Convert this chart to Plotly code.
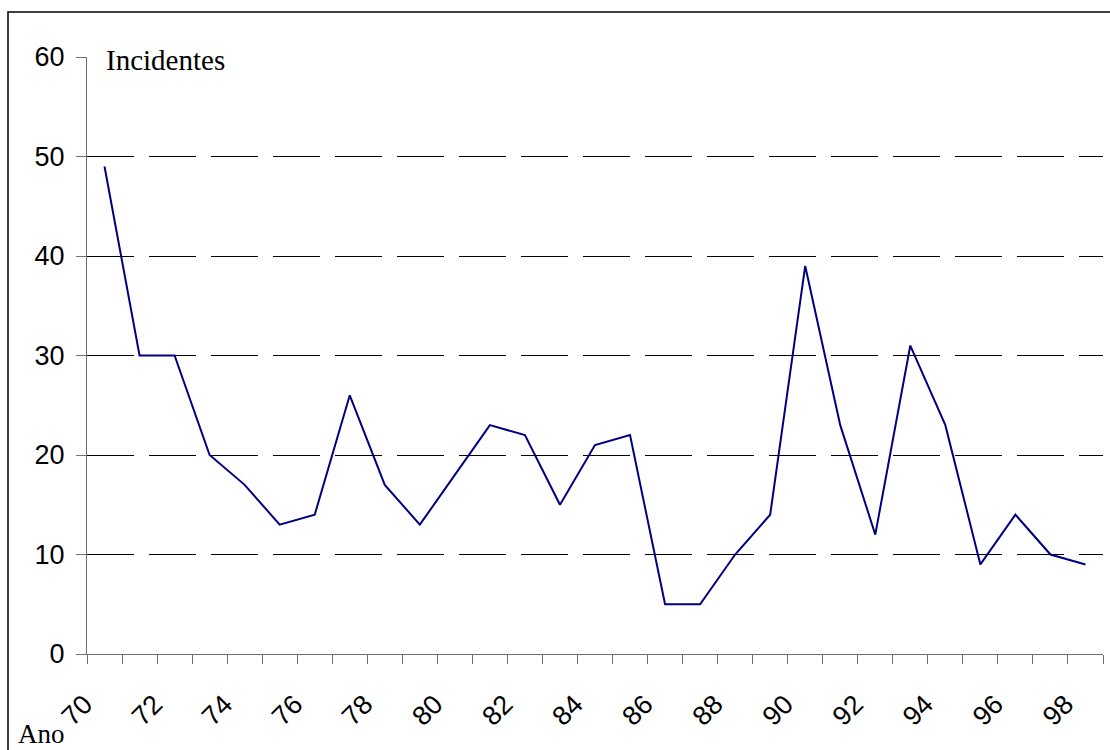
import plotly.graph_objects as go

# Number of incidents per year (1970-1998)
years = ["70", "71", "72", "73", "74", "75", "76", "77", "78", "79",
         "80", "81", "82", "83", "84", "85", "86", "87", "88", "89",
         "90", "91", "92", "93", "94", "95", "96", "97", "98"]
incidents = [49, 30, 30, 20, 17, 13, 14, 26, 17, 13,
             18, 23, 22, 15, 21, 22, 5, 5, 10, 14,
             39, 23, 12, 31, 23, 9, 14, 10, 9]
y_ticks = [0, 10, 20, 30, 40, 50, 60]
grid_values = [10, 20, 30, 40, 50]

idx = list(range(len(years)))
W, H = 1110, 750
L, R, T, B = 87, 7, 57, 96
pw, ph = W - L - R, H - T - B

fig = go.Figure()
fig.add_trace(go.Scatter(
    x=idx, y=incidents, mode="lines",
    line=dict(color="#000080", width=2),
    showlegend=False, hoverinfo="skip",
))

xr = [-0.5, len(years) - 0.5]
axis_col = "#707070"
num_font = dict(family="Arial, Liberation Sans", size=27, color="black")
serif_font = dict(family="Liberation Serif, Times New Roman", size=28, color="black")

fig.update_layout(
    width=W, height=H,
    margin=dict(l=L, r=R, t=T, b=B),
    paper_bgcolor="white", plot_bgcolor="white",
    # tick marks on category boundaries
    xaxis=dict(
        range=xr, tickvals=[i - 0.5 for i in range(len(years) + 1)],
        ticktext=[""] * (len(years) + 1),
        ticks="outside", ticklen=9, tickcolor=axis_col, tickwidth=1,
        showline=True, linecolor=axis_col, linewidth=1,
        showgrid=False, zeroline=False, fixedrange=True,
    ),
    # year labels at category centres
    xaxis2=dict(
        range=xr, overlaying="x", side="bottom", anchor="y",
        tickvals=idx[::2], ticktext=years[::2], tickangle=-45,
        ticks="", showline=False, showgrid=False, zeroline=False,
        tickfont=num_font,
        ticklabelstandoff=28, ticklabelshift=-20,
    ),
    yaxis=dict(
        range=[0, 60], tickvals=y_ticks,
        ticks="outside", ticklen=10, tickcolor=axis_col, tickwidth=1,
        showline=True, linecolor=axis_col, linewidth=1,
        showgrid=False, zeroline=False,
        tickfont=num_font,
        ticklabelstandoff=6,
    ),
    yaxis2=dict(
        range=[0, 60], overlaying="y", tickvals=grid_values,
        showticklabels=False, ticks="",
        showgrid=True, gridcolor="black", gridwidth=1, griddash="47px,15px",
        zeroline=False, showline=False,
    ),
    annotations=[
        dict(text="Incidentes", xref="paper", yref="paper",
             x=(104 - L) / pw, y=1 + (T - 60) / ph,
             xanchor="left", yanchor="middle", showarrow=False,
             font=dict(serif_font, size=29)),
        dict(text="Ano", xref="paper", yref="paper",
             x=(16 - L) / pw, y=-(734 - T - ph) / ph,
             xanchor="left", yanchor="middle", showarrow=False,
             font=dict(serif_font, size=27)),
    ],
    shapes=[
        dict(type="rect", xref="paper", yref="paper", layer="above",
             x0=(8 - L) / pw, x1=(W + 10 - L) / pw,
             y0=-(H + 10 - T - ph) / ph, y1=1 + (T - 12) / ph,
             line=dict(color="black", width=1.5)),
    ],
)

# invisible trace so the gridline/label axes are rendered
fig.add_trace(go.Scatter(x=[None], y=[None], xaxis="x2", yaxis="y2",
                         showlegend=False, hoverinfo="skip"))

fig.write_html("out.html")
